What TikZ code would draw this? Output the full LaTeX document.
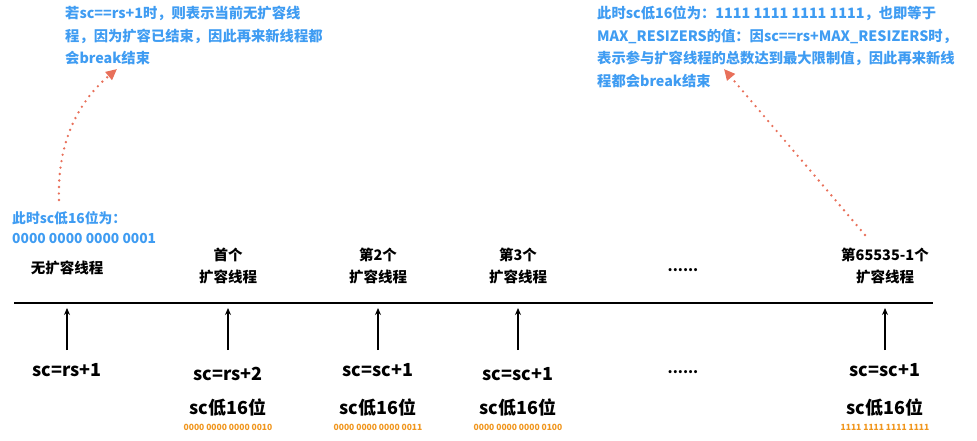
\documentclass[tikz,border=0pt]{standalone}
\usepackage{fontspec}
\setmainfont{Noto Sans CJK SC}
\usetikzlibrary{arrows.meta}
\definecolor{blu}{HTML}{3F9CF2}
\definecolor{org}{HTML}{F0961E}
\definecolor{red1}{HTML}{E8705A}
\begin{document}
\begin{tikzpicture}[x=1pt,y=-1pt,
  lab/.style={font=\bfseries\fontsize{14.5}{22}\selectfont,align=center,inner sep=0},
  blab/.style={font=\bfseries\fontsize{14.3}{22.5}\selectfont,text=blu,align=left,inner sep=0,anchor=north west},
  big/.style={font=\bfseries\fontsize{18}{18}\selectfont,inner sep=0},
  bin/.style={font=\bfseries\fontsize{8.5}{10}\selectfont,text=org,inner sep=0},
  up/.style={-{Stealth[length=7pt,width=6pt]},line width=1.1pt},
  dots/.style={red1,line width=2.6pt,dash pattern=on 0pt off 6.5pt,line cap=round,-{Triangle[length=11pt,width=10pt]}}]
\useasboundingbox (0,0) rectangle (977,441);
\coordinate (L1) at (14,303); \coordinate (L2) at (933,303);
\draw[line width=1.1pt] (L1) -- (L2);
\node[blab] (t1) at (65,6) {若sc==rs+1时，则表示当前无扩容线\\程，因为扩容已结束，因此再来新线程都\\会break结束};
\node[blab] (t2) at (597,6) {此时sc低16位为：1111 1111 1111 1111，也即等于\\MAX\_RESIZERS的值：因sc==rs+MAX\_RESIZERS时，\\表示参与扩容线程的总数达到最大限制值，因此再来新线\\程都会break结束};
\node[blab,font=\bfseries\fontsize{13.8}{20.5}\selectfont] (s0) at (12,211) {此时sc低16位为：\\0000 0000 0000 0001};
\node[lab] (h0) at (67,268) {无扩容线程};
\node[lab] (h1) at (228,266) {首个\\扩容线程};
\node[lab] (h2) at (378,266) {第2个\\扩容线程};
\node[lab] (h3) at (518,266) {第3个\\扩容线程};
\node[lab] (hd) at (683,270) {......};
\node[lab] (h4) at (885,266) {第65535-1个\\扩容线程};
\foreach \x/\y/\t/\n in {67/370/sc=rs+1/0,228/374/sc=rs+2/1,378/370/sc=sc+1/2,518/374/sc=sc+1/3,885/370/sc=sc+1/4}{
  \node[big] (b\n) at (\x,\y) {\t};
  \coordinate (a\n) at (\x,308);
  \draw[up] (\x,350) -- (a\n);
}
\node[lab] (bd) at (683,372) {......};
\foreach \x/\t/\n in {228/0000 0000 0000 0010/1,378/0000 0000 0000 0011/2,518/0000 0000 0000 0100/3,885/1111 1111 1111 1111/4}{
  \node[big] (c\n) at (\x,408) {sc低16位};
  \node[bin] (d\n) at (\x,427) {\t};
}
\coordinate (p0) at (59,200); \coordinate (p1) at (117,69);
\draw[dots] (p0) .. controls (57,140) and (80,100) .. (p1);
\coordinate (q0) at (865,235); \coordinate (q1) at (724,69);
\draw[dots] (q0) -- (q1);
\end{tikzpicture}
\end{document}
